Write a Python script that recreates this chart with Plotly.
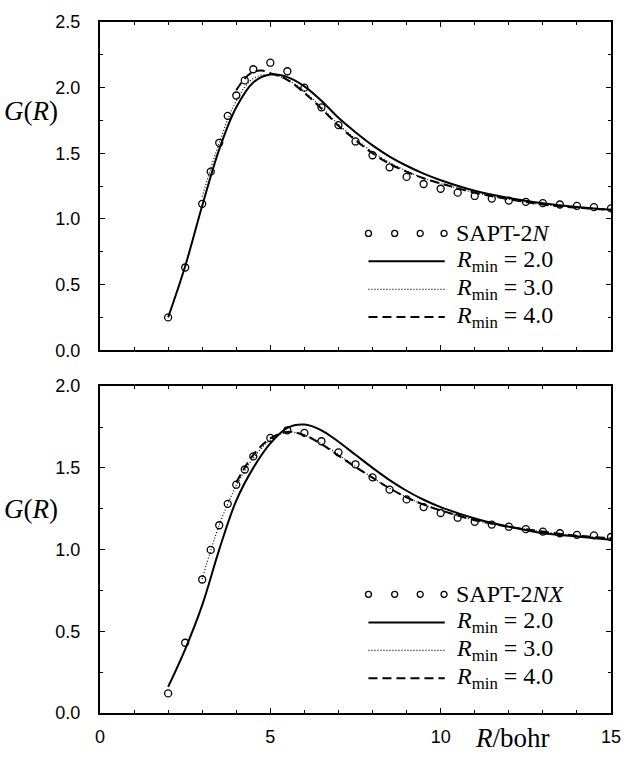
import plotly.graph_objects as go

# ---------------- data: top panel (SAPT-2N) ----------------
top_sapt_x = [2.0, 2.5, 3.0, 3.25, 3.5, 3.75, 4.0, 4.25, 4.5, 5.0, 5.5, 6.0, 6.5, 7.0, 7.5,
              8.0, 8.5, 9.0, 9.5, 10.0, 10.5, 11.0, 11.5, 12.0, 12.5, 13.0, 13.5, 14.0, 14.5, 15.0]
top_sapt_y = [0.25, 0.63, 1.115, 1.36, 1.58, 1.785, 1.94, 2.055, 2.14, 2.19, 2.125, 2.0, 1.85, 1.715, 1.59,
              1.485, 1.393, 1.32, 1.266, 1.23, 1.2, 1.175, 1.155, 1.14, 1.13, 1.12, 1.11, 1.10, 1.09, 1.08]

top_r2_x = [2.0, 2.5, 3.0, 3.5, 4.0, 4.5, 5.0, 5.5, 6.0, 6.5, 7.0, 7.5, 8.0, 8.5, 9.0, 9.5, 10.0, 11.0, 12.0, 13.0, 14.0, 15.0]
top_r2_y = [0.25, 0.64, 1.10, 1.53, 1.85, 2.04, 2.10, 2.08, 2.01, 1.90, 1.77, 1.66, 1.56, 1.475, 1.405, 1.345, 1.295, 1.215, 1.16, 1.12, 1.09, 1.07]

top_r3_x = [3.0, 3.5, 4.0, 4.5, 5.0, 5.5, 6.0, 6.5, 7.0, 7.5, 8.0, 8.5, 9.0, 9.5, 10.0, 11.0, 12.0, 13.0, 14.0, 15.0]
top_r3_y = [1.17, 1.58, 1.90, 2.07, 2.10, 2.06, 1.97, 1.85, 1.72, 1.61, 1.51, 1.43, 1.365, 1.31, 1.27, 1.20, 1.15, 1.11, 1.09, 1.07]

top_r4_x = [4.0, 4.25, 4.5, 4.75, 5.0, 5.5, 6.0, 6.5, 7.0, 7.5, 8.0, 8.5, 9.0, 9.5, 10.0, 11.0, 12.0, 13.0, 14.0, 15.0]
top_r4_y = [1.98, 2.07, 2.12, 2.13, 2.11, 2.06, 1.96, 1.84, 1.71, 1.60, 1.50, 1.42, 1.36, 1.31, 1.27, 1.20, 1.15, 1.11, 1.085, 1.07]

# ---------------- data: bottom panel (SAPT-2NX) ----------------
bot_sapt_x = [2.0, 2.5, 3.0, 3.25, 3.5, 3.75, 4.0, 4.25, 4.5, 5.0, 5.5, 6.0, 6.5, 7.0, 7.5,
              8.0, 8.5, 9.0, 9.5, 10.0, 10.5, 11.0, 11.5, 12.0, 12.5, 13.0, 13.5, 14.0, 14.5, 15.0]
bot_sapt_y = [0.12, 0.43, 0.817, 0.998, 1.149, 1.28, 1.397, 1.49, 1.57, 1.683, 1.73, 1.714, 1.663, 1.595, 1.522,
              1.442, 1.367, 1.307, 1.26, 1.224, 1.195, 1.17, 1.153, 1.14, 1.125, 1.11, 1.10, 1.09, 1.087, 1.077]

bot_r2_x = [2.0, 2.5, 3.0, 3.5, 4.0, 4.5, 5.0, 5.5, 6.0, 6.5, 7.0, 7.5, 8.0, 8.5, 9.0, 9.5, 10.0, 11.0, 12.0, 13.0, 14.0, 15.0]
bot_r2_y = [0.16, 0.39, 0.66, 1.00, 1.30, 1.50, 1.65, 1.745, 1.765, 1.73, 1.66, 1.58, 1.50, 1.425, 1.36, 1.305, 1.26, 1.19, 1.14, 1.10, 1.08, 1.06]

bot_r3_x = [3.0, 3.5, 4.0, 4.5, 5.0, 5.5, 6.0, 6.5, 7.0, 7.5, 8.0, 8.5, 9.0, 9.5, 10.0, 11.0, 12.0, 13.0, 14.0, 15.0]
bot_r3_y = [0.82, 1.15, 1.39, 1.56, 1.67, 1.72, 1.70, 1.65, 1.58, 1.51, 1.44, 1.375, 1.32, 1.275, 1.24, 1.18, 1.14, 1.11, 1.085, 1.07]

bot_r4_x = [4.0, 4.5, 5.0, 5.5, 6.0, 6.5, 7.0, 7.5, 8.0, 8.5, 9.0, 9.5, 10.0, 11.0, 12.0, 13.0, 14.0, 15.0]
bot_r4_y = [1.41, 1.58, 1.68, 1.72, 1.70, 1.645, 1.575, 1.505, 1.44, 1.375, 1.32, 1.275, 1.24, 1.18, 1.14, 1.11, 1.085, 1.07]

legend_labels_top = ["SAPT-2<i>N</i>", "<i>R</i><sub>min</sub> = 2.0", "<i>R</i><sub>min</sub> = 3.0", "<i>R</i><sub>min</sub> = 4.0"]
legend_labels_bot = ["SAPT-2<i>NX</i>", "<i>R</i><sub>min</sub> = 2.0", "<i>R</i><sub>min</sub> = 3.0", "<i>R</i><sub>min</sub> = 4.0"]

x_range = [0, 15]
top_y_range = [0, 2.5]
bot_y_range = [0, 2.0]

# ---------------- styles ----------------
BLACK = "black"
SERIF = "Liberation Serif, Times New Roman, serif"
SANS = "Liberation Sans, Arial, sans-serif"
solid = dict(color=BLACK, width=2)
dotted = dict(color=BLACK, width=1.2, dash="1px,2px")
dashed = dict(color=BLACK, width=2, dash="9px,5px")

fig = go.Figure()


def add_panel(xa, ya, r2x, r2y, r3x, r3y, r4x, r4y, sx, sy):
    fig.add_trace(go.Scatter(x=r2x, y=r2y, mode="lines", line=dict(shape="spline", **solid),
                             xaxis=xa, yaxis=ya, showlegend=False))
    fig.add_trace(go.Scatter(x=r3x, y=r3y, mode="lines", line=dict(shape="spline", **dotted),
                             xaxis=xa, yaxis=ya, showlegend=False))
    fig.add_trace(go.Scatter(x=r4x, y=r4y, mode="lines", line=dict(shape="spline", **dashed),
                             xaxis=xa, yaxis=ya, showlegend=False))
    fig.add_trace(go.Scatter(x=sx, y=sy, mode="markers",
                             marker=dict(symbol="circle-open", size=7, color=BLACK, line=dict(width=1.3)),
                             xaxis=xa, yaxis=ya, showlegend=False))


add_panel("x", "y", top_r2_x, top_r2_y, top_r3_x, top_r3_y, top_r4_x, top_r4_y, top_sapt_x, top_sapt_y)
add_panel("x2", "y2", bot_r2_x, bot_r2_y, bot_r3_x, bot_r3_y, bot_r4_x, bot_r4_y, bot_sapt_x, bot_sapt_y)

axis_common = dict(showline=True, linecolor=BLACK, linewidth=2, mirror="ticks",
                   ticks="inside", ticklen=5, tickwidth=1.3, tickcolor=BLACK,
                   showgrid=False, zeroline=False,
                   tickfont=dict(family=SANS, size=18, color=BLACK))

fig.update_layout(
    width=633, height=759,
    margin=dict(l=100, r=16, t=15, b=46),
    plot_bgcolor="white", paper_bgcolor="white",
    showlegend=False,
    xaxis=dict(range=x_range, domain=[0, 1], anchor="y", dtick=5, showticklabels=False,
               minor=dict(dtick=1, ticks="inside", ticklen=3, tickcolor=BLACK), **axis_common),
    yaxis=dict(range=top_y_range, domain=[0.525, 1], anchor="x", dtick=0.5, tickformat=".1f",
               ticklabelstandoff=14,
               minor=dict(dtick=0.25, ticks="inside", ticklen=3, tickcolor=BLACK), **axis_common),
    xaxis2=dict(range=x_range, domain=[0, 1], anchor="y2", dtick=5, ticklabelstandoff=6,
                minor=dict(dtick=1, ticks="inside", ticklen=3, tickcolor=BLACK), **axis_common),
    yaxis2=dict(range=bot_y_range, domain=[0, 0.473], anchor="x2", dtick=0.5, tickformat=".1f",
                ticklabelstandoff=14,
                minor=dict(dtick=0.25, ticks="inside", ticklen=3, tickcolor=BLACK), **axis_common),
)

# axis titles
fig.add_annotation(text="<i>G</i>(<i>R</i>)", xref="paper", yref="y", x=-0.135, y=1.82,
                   xanchor="center", yanchor="middle", showarrow=False,
                   font=dict(family=SERIF, size=27, color=BLACK))
fig.add_annotation(text="<i>G</i>(<i>R</i>)", xref="paper", yref="y2", x=-0.135, y=1.25,
                   xanchor="center", yanchor="middle", showarrow=False,
                   font=dict(family=SERIF, size=27, color=BLACK))
fig.add_annotation(text="<i>R</i>/bohr", xref="x2", yref="paper", x=12.1, y=0,
                   xanchor="center", yanchor="middle", yshift=-25, showarrow=False,
                   font=dict(family=SERIF, size=27, color=BLACK))


# custom legends (line samples as shapes, labels as annotations)
def add_legend(xref, yref, rows_y, labels):
    x0, x1, xt = 7.88, 10.12, 10.42
    circ_x = [7.88, 8.65, 9.4, 10.1]
    for cx in circ_x:
        fig.add_shape(type="circle", xref=xref, yref=yref, xsizemode="pixel", ysizemode="pixel",
                      xanchor=cx, yanchor=rows_y[0], x0=-3, x1=3, y0=-3, y1=3,
                      line=dict(color=BLACK, width=1.3), fillcolor="white")
    for ry, st in zip(rows_y[1:], [solid, dotted, dashed]):
        fig.add_shape(type="line", xref=xref, yref=yref, x0=x0, x1=x1, y0=ry, y1=ry, line=st)
    for ry, lab in zip(rows_y, labels):
        fig.add_annotation(text=lab, xref=xref, yref=yref, x=xt, y=ry, xanchor="left", yanchor="middle",
                           showarrow=False, borderpad=0,
                           font=dict(family=SERIF, size=24, color=BLACK))


add_legend("x", "y", [0.89, 0.677, 0.464, 0.253], legend_labels_top)
add_legend("x2", "y2", [0.726, 0.554, 0.383, 0.212], legend_labels_bot)

fig.write_html("out.html", config={"displayModeBar": False},
               post_script="document.body.style.margin='0';")
